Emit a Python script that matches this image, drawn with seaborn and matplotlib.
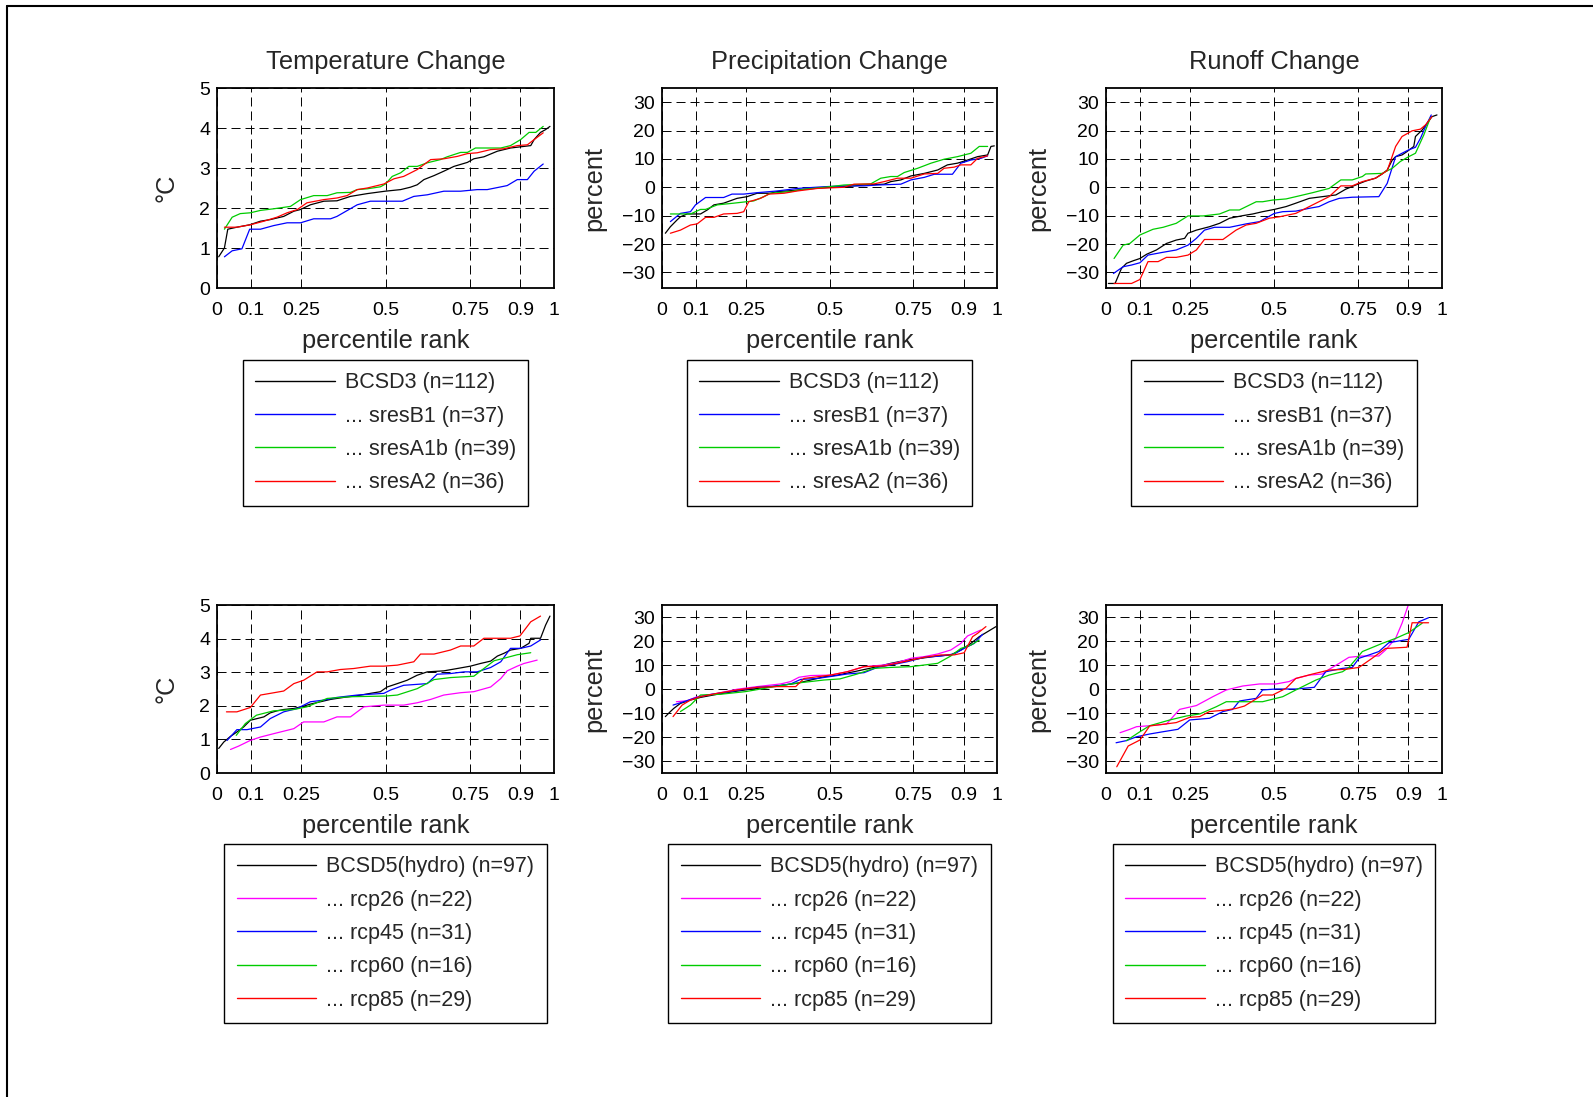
import matplotlib
matplotlib.use("Agg")
import matplotlib.pyplot as plt
import seaborn as sns
import pandas as pd
from matplotlib.lines import Line2D

sns.set_style("white")
plt.rcParams["font.family"] = ["Liberation Sans", "DejaVu Sans"]

# ---------------- data (percentile rank, value) ----------------
x_ticks = [0, 0.1, 0.25, 0.5, 0.75, 0.9, 1]
x_tick_labels = ["0", "0.1", "0.25", "0.5", "0.75", "0.9", "1"]
temp_ticks = [0, 1, 2, 3, 4, 5]
pct_ticks = [-30, -20, -10, 0, 10, 20, 30]
titles = ["Temperature Change", "Precipitation Change", "Runoff Change"]
ylabels = ["°C", "percent", "percent"]

cmip3_labels = ["BCSD3 (n=112)", "... sresB1 (n=37)", "... sresA1b (n=39)", "... sresA2 (n=36)"]
cmip5_labels = ["BCSD5(hydro) (n=97)", "... rcp26 (n=22)", "... rcp45 (n=31)",
                "... rcp60 (n=16)", "... rcp85 (n=29)"]

# --- CMIP3 temperature ---
t3_bcsd3 = [(.005, .78), (.022, 1.00), (.032, 1.47), (.059, 1.52), (.097, 1.58), (.129, 1.67),
            (.158, 1.71), (.198, 1.79), (.228, 1.92), (.247, 1.96), (.277, 2.08), (.317, 2.17),
            (.356, 2.18), (.396, 2.29), (.446, 2.36), (.499, 2.42), (.545, 2.46), (.574, 2.52),
            (.594, 2.58), (.614, 2.71), (.644, 2.81), (.673, 2.92), (.703, 3.04), (.743, 3.14),
            (.762, 3.23), (.792, 3.28), (.832, 3.42), (.871, 3.50), (.901, 3.53), (.931, 3.56),
            (.941, 3.71), (.960, 3.89), (.975, 3.96), (.988, 4.04)]
t3_b1 = [(.022, .78), (.045, .93), (.074, .98), (.097, 1.47), (.129, 1.47), (.168, 1.56),
         (.208, 1.63), (.248, 1.63), (.287, 1.73), (.337, 1.73), (.356, 1.79), (.416, 2.08),
         (.455, 2.17), (.550, 2.17), (.584, 2.29), (.624, 2.33), (.673, 2.42), (.723, 2.42),
         (.772, 2.46), (.802, 2.46), (.861, 2.56), (.891, 2.71), (.921, 2.71), (.941, 2.92),
         (.968, 3.10)]
t3_a1b = [(.022, 1.47), (.045, 1.77), (.069, 1.86), (.099, 1.88), (.129, 1.94), (.168, 1.98),
          (.218, 2.04), (.248, 2.21), (.287, 2.31), (.327, 2.31), (.356, 2.38), (.396, 2.39),
          (.416, 2.46), (.446, 2.48), (.485, 2.53), (.500, 2.60), (.520, 2.79), (.545, 2.88),
          (.569, 3.04), (.594, 3.04), (.624, 3.13), (.663, 3.21), (.683, 3.28), (.723, 3.39),
          (.743, 3.39), (.767, 3.50), (.842, 3.50), (.871, 3.56), (.901, 3.71), (.926, 3.89),
          (.946, 3.89), (.968, 4.04)]
t3_a2 = [(.022, 1.52), (.059, 1.52), (.099, 1.58), (.139, 1.67), (.178, 1.77), (.208, 1.88),
         (.238, 1.96), (.267, 2.13), (.317, 2.21), (.356, 2.25), (.386, 2.31), (.416, 2.46),
         (.446, 2.50), (.495, 2.60), (.525, 2.73), (.554, 2.79), (.594, 2.96), (.634, 3.21),
         (.673, 3.23), (.713, 3.29), (.743, 3.36), (.772, 3.38), (.812, 3.46), (.851, 3.48),
         (.891, 3.56), (.921, 3.58), (.941, 3.71), (.968, 3.88)]

# --- CMIP3 precipitation ---
p3_bcsd3 = [(.010, -16.2), (.025, -13.9), (.045, -11.5), (.055, -10.4), (.075, -9.4), (.115, -9.4),
            (.135, -8.0), (.155, -6.2), (.184, -5.6), (.224, -3.9), (.254, -3.3), (.284, -2.1),
            (.324, -2.1), (.344, -1.5), (.384, -1.2), (.434, -0.6), (.499, 0.0), (.543, 0.2),
            (.603, 0.8), (.663, 1.1), (.683, 2.0), (.713, 2.6), (.743, 4.0), (.783, 4.9),
            (.823, 6.1), (.852, 7.9), (.882, 8.5), (.912, 9.6), (.942, 10.8), (.972, 11.4),
            (.982, 14.4), (.992, 14.6)]
p3_b1 = [(.025, -12.1), (.055, -9.2), (.085, -8.6), (.100, -6.2), (.130, -3.6), (.184, -3.6),
         (.209, -2.4), (.244, -2.4), (.284, -1.9), (.344, -1.3), (.404, -0.4), (.484, 0.2),
         (.543, 0.5), (.603, 0.5), (.643, 0.8), (.713, 1.1), (.743, 2.6), (.783, 3.5),
         (.813, 4.6), (.867, 4.6), (.892, 8.5), (.922, 9.6), (.952, 10.2), (.972, 11.1)]
p3_a1b = [(.025, -9.4), (.085, -9.4), (.115, -7.8), (.130, -7.8), (.165, -6.2), (.214, -5.6),
          (.274, -4.8), (.304, -3.3), (.324, -2.1), (.384, -1.5), (.424, -0.7), (.484, 0.0),
          (.543, 0.8), (.623, 1.2), (.653, 3.2), (.683, 3.8), (.703, 3.8), (.723, 5.2),
          (.763, 6.7), (.803, 8.5), (.842, 9.9), (.882, 10.8), (.922, 12.0), (.947, 14.4),
          (.972, 14.4)]
p3_a2 = [(.025, -16.2), (.055, -15.1), (.085, -13.3), (.105, -12.9), (.130, -10.6), (.155, -10.6),
         (.184, -9.4), (.224, -9.2), (.244, -8.6), (.259, -5.1), (.294, -3.9), (.319, -2.4),
         (.364, -2.1), (.404, -1.3), (.464, -0.4), (.543, 0.0), (.573, 1.1), (.633, 1.2),
         (.663, 2.0), (.703, 3.2), (.743, 3.2), (.783, 4.7), (.823, 4.9), (.842, 6.7),
         (.872, 7.1), (.892, 7.9), (.922, 7.9), (.942, 10.2), (.972, 11.1)]

# --- CMIP3 runoff ---
r3_bcsd3 = [(.007, -33.9), (.027, -33.9), (.046, -28.6), (.061, -26.8), (.081, -25.9), (.101, -25.1),
            (.121, -23.6), (.150, -22.1), (.180, -19.8), (.209, -18.6), (.234, -18.0), (.244, -16.2),
            (.269, -15.1), (.308, -13.9), (.338, -12.7), (.368, -10.9), (.407, -10.0), (.437, -9.4),
            (.466, -8.6), (.501, -7.8), (.536, -6.8), (.565, -5.6), (.605, -3.9), (.644, -3.3),
            (.684, -2.7), (.713, -0.7), (.743, 0.8), (.773, 2.2), (.802, 3.2), (.822, 4.7),
            (.837, 6.1), (.852, 9.6), (.862, 10.8), (.881, 11.4), (.896, 12.6), (.916, 14.4),
            (.921, 17.9), (.941, 20.2), (.956, 22.6), (.970, 24.9), (.985, 25.5)]
r3_b1 = [(.022, -30.4), (.051, -28.0), (.076, -27.4), (.101, -26.6), (.125, -23.9), (.170, -22.9),
         (.209, -22.1), (.244, -20.4), (.269, -18.0), (.293, -15.1), (.323, -14.1), (.368, -14.1),
         (.417, -12.9), (.457, -12.1), (.501, -9.2), (.526, -8.6), (.565, -8.4), (.605, -7.4),
         (.634, -6.8), (.664, -5.1), (.694, -3.9), (.733, -3.5), (.812, -3.3), (.837, 1.4),
         (.862, 10.8), (.881, 12.0), (.901, 13.2), (.921, 14.1), (.936, 17.3), (.951, 21.4),
         (.968, 25.5)]
r3_a1b = [(.024, -25.1), (.051, -20.4), (.071, -19.8), (.101, -16.8), (.140, -14.8), (.170, -14.1),
          (.209, -12.7), (.244, -10.1), (.289, -10.1), (.338, -9.4), (.368, -8.0), (.397, -8.0),
          (.447, -5.1), (.466, -5.1), (.496, -4.5), (.536, -4.1), (.565, -3.3), (.615, -1.9),
          (.664, -0.4), (.699, 2.6), (.733, 2.6), (.763, 3.8), (.773, 4.7), (.822, 4.9),
          (.852, 6.7), (.876, 9.1), (.901, 10.8), (.921, 12.0), (.946, 18.5), (.965, 24.4)]
r3_a2 = [(.024, -33.9), (.076, -33.9), (.101, -32.5), (.125, -26.2), (.155, -26.2), (.180, -24.7),
         (.209, -24.7), (.244, -23.9), (.269, -22.1), (.293, -18.4), (.348, -18.4), (.387, -15.1),
         (.417, -13.3), (.447, -12.7), (.486, -10.9), (.516, -10.4), (.565, -9.2), (.615, -6.2),
         (.664, -3.3), (.699, 0.5), (.733, 0.5), (.763, 2.0), (.802, 3.2), (.837, 5.9),
         (.862, 14.4), (.881, 17.9), (.911, 19.9), (.936, 20.5), (.951, 22.0), (.970, 24.9)]

# --- CMIP5 temperature ---
t5_bcsd5 = [(.005, .73), (.020, .92), (.040, 1.09), (.059, 1.22), (.079, 1.37), (.099, 1.57),
            (.119, 1.62), (.139, 1.67), (.158, 1.79), (.178, 1.85), (.198, 1.89), (.228, 1.92),
            (.257, 1.99), (.277, 2.05), (.307, 2.12), (.337, 2.19), (.376, 2.25), (.416, 2.30),
            (.455, 2.37), (.485, 2.42), (.505, 2.56), (.535, 2.66), (.564, 2.76), (.594, 2.91),
            (.624, 3.01), (.673, 3.04), (.713, 3.11), (.752, 3.18), (.782, 3.26), (.812, 3.33),
            (.832, 3.48), (.851, 3.56), (.871, 3.66), (.901, 3.71), (.926, 3.86), (.931, 4.01),
            (.960, 4.01), (.975, 4.40), (.988, 4.67)]
t5_rcp26 = [(.040, .70), (.064, .80), (.099, .97), (.129, 1.07), (.168, 1.17), (.208, 1.27),
            (.228, 1.32), (.257, 1.52), (.317, 1.52), (.356, 1.67), (.396, 1.67), (.436, 1.97),
            (.495, 2.02), (.554, 2.02), (.594, 2.09), (.634, 2.19), (.673, 2.32), (.723, 2.39),
            (.762, 2.42), (.812, 2.56), (.842, 2.81), (.861, 3.04), (.891, 3.18), (.911, 3.26),
            (.950, 3.36)]
t5_rcp45 = [(.030, .97), (.059, 1.29), (.089, 1.29), (.129, 1.37), (.158, 1.62), (.198, 1.82),
            (.238, 1.92), (.277, 2.12), (.317, 2.17), (.356, 2.25), (.416, 2.32), (.495, 2.37),
            (.515, 2.47), (.554, 2.61), (.624, 2.66), (.653, 2.94), (.693, 2.96), (.733, 3.01),
            (.772, 3.01), (.812, 3.14), (.842, 3.31), (.871, 3.71), (.901, 3.71), (.931, 3.78),
            (.960, 3.96)]
t5_rcp60 = [(.057, 1.12), (.084, 1.47), (.117, 1.72), (.168, 1.85), (.228, 1.89), (.267, 1.97),
            (.327, 2.22), (.396, 2.27), (.500, 2.29), (.535, 2.32), (.594, 2.51), (.644, 2.78),
            (.693, 2.84), (.762, 2.88), (.792, 3.11), (.822, 3.34), (.861, 3.44), (.891, 3.52),
            (.931, 3.58)]
t5_rcp85 = [(.028, 1.82), (.059, 1.82), (.099, 1.95), (.129, 2.32), (.158, 2.37), (.198, 2.44),
            (.228, 2.66), (.257, 2.76), (.297, 3.01), (.327, 3.01), (.366, 3.08), (.406, 3.11),
            (.455, 3.18), (.495, 3.18), (.535, 3.21), (.584, 3.31), (.604, 3.54), (.644, 3.54),
            (.693, 3.66), (.723, 3.78), (.762, 3.78), (.792, 4.01), (.871, 4.01), (.899, 4.08),
            (.931, 4.50), (.960, 4.67)]

# --- CMIP5 precipitation ---
p5_bcsd5 = [(.010, -11.5), (.025, -9.4), (.035, -8.1), (.055, -6.0), (.085, -4.6), (.115, -3.5),
            (.165, -2.2), (.214, -1.1), (.264, -0.1), (.314, 0.7), (.364, 1.7), (.404, 2.4),
            (.444, 3.75), (.484, 5.1), (.523, 5.8), (.573, 7.2), (.633, 9.0), (.683, 10.7),
            (.733, 12.1), (.773, 12.8), (.823, 13.75), (.862, 14.2), (.892, 16.25), (.922, 19.0),
            (.947, 21.8), (.972, 23.9), (.997, 26.0)]
p5_rcp26 = [(.043, -5.3), (.075, -4.9), (.105, -3.2), (.165, -1.8), (.224, -0.1), (.284, 1.0),
            (.354, 2.1), (.384, 3.1), (.409, 4.9), (.444, 5.6), (.503, 5.8), (.553, 7.2),
            (.603, 9.3), (.663, 10.0), (.703, 11.0), (.743, 12.8), (.783, 13.5), (.823, 14.6),
            (.862, 16.25), (.892, 19.0), (.912, 22.1), (.952, 24.6)]
p5_rcp45 = [(.033, -6.7), (.065, -5.3), (.095, -3.9), (.135, -2.5), (.184, -1.5), (.234, -0.4),
            (.284, 0.7), (.344, 1.25), (.384, 2.1), (.414, 4.0), (.464, 4.4), (.513, 5.4),
            (.553, 6.25), (.603, 6.8), (.643, 9.0), (.683, 10.0), (.733, 11.4), (.783, 13.2),
            (.833, 13.75), (.872, 14.6), (.902, 16.9), (.932, 19.0), (.957, 22.8)]
p5_rcp60 = [(.055, -9.4), (.085, -6.7), (.115, -2.5), (.174, -2.2), (.249, -1.1), (.324, 0.7),
            (.399, 2.4), (.484, 3.75), (.531, 4.2), (.583, 6.25), (.633, 8.6), (.683, 9.0),
            (.743, 9.3), (.823, 10.7), (.862, 13.75), (.892, 16.9), (.922, 18.3), (.947, 20.4)]
p5_rcp85 = [(.033, -11.5), (.060, -6.7), (.085, -4.6), (.115, -3.2), (.165, -1.8), (.224, -0.4),
            (.284, 0.7), (.344, 1.0), (.399, 1.0), (.424, 4.4), (.464, 5.1), (.503, 5.8),
            (.553, 7.2), (.603, 9.3), (.663, 9.6), (.723, 11.4), (.783, 13.2), (.833, 14.2),
            (.872, 14.2), (.902, 15.1), (.927, 21.8), (.942, 23.2), (.967, 26.0)]

# --- CMIP5 runoff ---
r5_bcsd5 = []
r5_rcp26 = [(.042, -18.2), (.071, -16.8), (.091, -15.7), (.130, -15.3), (.180, -14.6), (.219, -8.5),
            (.269, -6.9), (.318, -3.2), (.358, -0.4), (.407, 1.25), (.457, 2.1), (.506, 2.1),
            (.545, 3.1), (.565, 4.4), (.605, 5.8), (.644, 6.25), (.664, 8.2), (.694, 10.7),
            (.723, 13.2), (.763, 13.75), (.812, 13.75), (.832, 16.25), (.862, 21.1), (.881, 27.4),
            (.901, 35.5)]
r5_rcp45 = [(.030, -22.4), (.061, -21.5), (.091, -19.9), (.130, -18.75), (.170, -17.8), (.214, -16.8),
            (.249, -12.9), (.308, -12.2), (.348, -9.4), (.377, -8.5), (.397, -5.0), (.447, -3.9),
            (.466, -0.4), (.506, 0.0), (.565, 0.0), (.620, 0.7), (.654, 7.2), (.704, 8.6),
            (.733, 9.0), (.753, 12.8), (.783, 14.2), (.812, 15.6), (.842, 19.3), (.901, 20.7),
            (.931, 28.0), (.960, 29.7)]
r5_rcp60 = [(.061, -21.5), (.101, -17.8), (.130, -15.3), (.190, -12.9), (.239, -11.25), (.279, -10.4),
            (.328, -7.4), (.358, -5.3), (.466, -5.3), (.526, -3.2), (.565, -0.4), (.625, 3.75),
            (.664, 5.8), (.704, 7.2), (.723, 9.0), (.763, 15.6), (.822, 19.0), (.862, 21.1),
            (.901, 23.5), (.941, 27.4)]
r5_rcp85 = [(.032, -32.4), (.066, -23.75), (.101, -21.25), (.130, -15.4), (.170, -14.7), (.209, -14.0),
            (.249, -11.8), (.279, -11.5), (.308, -9.4), (.358, -8.75), (.387, -8.1), (.412, -7.1),
            (.466, -2.5), (.496, -2.5), (.536, 0.3), (.565, 4.4), (.615, 6.25), (.664, 7.9),
            (.713, 8.2), (.753, 9.0), (.792, 12.8), (.832, 16.9), (.896, 17.4), (.911, 27.6),
            (.960, 27.6)]

cmip3_colors = ["#000000", "#0000ff", "#00cc00", "#ff0000"]
cmip5_colors = ["#000000", "#ff00ff", "#0000ff", "#00cc00", "#ff0000"]

# ---------------- figure ----------------
W, H = 1593, 1097
fig = plt.figure(figsize=(W / 100, H / 100), dpi=100)

col_lr = [(217, 554), (662, 997), (1106, 1442)]
row_tb = [(88, 288), (605, 773)]
ylabel_pad = [14.5, 11, 11]


def add_ax(col, row):
    l, r = col_lr[col]
    t, b = row_tb[row]
    return fig.add_axes([l / W, 1 - b / H, (r - l) / W, (b - t) / H])


panels = [
    (0, 0, [t3_bcsd3, t3_b1, t3_a1b, t3_a2], cmip3_labels, cmip3_colors, (0, 5), temp_ticks),
    (1, 0, [p3_bcsd3, p3_b1, p3_a1b, p3_a2], cmip3_labels, cmip3_colors, (-35.5, 35), pct_ticks),
    (2, 0, [r3_bcsd3, r3_b1, r3_a1b, r3_a2], cmip3_labels, cmip3_colors, (-35.5, 35), pct_ticks),
    (0, 1, [t5_bcsd5, t5_rcp26, t5_rcp45, t5_rcp60, t5_rcp85], cmip5_labels, cmip5_colors, (0, 5), temp_ticks),
    (1, 1, [p5_bcsd5, p5_rcp26, p5_rcp45, p5_rcp60, p5_rcp85], cmip5_labels, cmip5_colors, (-35, 35), pct_ticks),
    (2, 1, [r5_bcsd5, r5_rcp26, r5_rcp45, r5_rcp60, r5_rcp85], cmip5_labels, cmip5_colors, (-35, 35), pct_ticks),
]

legend_top_px = [360, 844]

for col, row, series, labels, colors, ylim, yticks in panels:
    ax = add_ax(col, row)
    ax.set_axisbelow(True)
    ax.grid(True, color="k", linestyle=(0, (9.3, 5.1)), linewidth=0.7)
    handles = []
    for pts, lab, c in zip(series, labels, colors):
        if pts:
            df = pd.DataFrame(pts, columns=["rank", "value"])
            sns.lineplot(data=df, x="rank", y="value", color=c, linewidth=0.9,
                         estimator=None, sort=False, ax=ax, legend=False)
        handles.append(Line2D([], [], color=c, linewidth=1.0, label=lab))
    ax.set_xlim(0, 1)
    ax.set_ylim(*ylim)
    ax.set_xticks(x_ticks)
    ax.set_xticklabels(x_tick_labels)
    ax.set_yticks(yticks)
    ax.tick_params(length=0, labelsize=14, colors="k")
    ax.tick_params(axis="x", pad=10)
    ax.tick_params(axis="y", pad=5)
    for s in ax.spines.values():
        s.set_color("k")
        s.set_linewidth(1.3)
    ax.set_xlabel("percentile rank", fontsize=18.3, labelpad=7)
    ax.set_ylabel(ylabels[col], fontsize=18.3, labelpad=ylabel_pad[col])
    if row == 0:
        ax.set_title(titles[col], fontsize=18.3, pad=13.5)
    t, b = row_tb[row]
    anchor_y = (b - legend_top_px[row]) / (b - t)
    leg = ax.legend(handles=handles, loc="upper center", bbox_to_anchor=(0.5, anchor_y),
                    borderaxespad=0, fontsize=15.5, frameon=True, fancybox=False,
                    edgecolor="k", framealpha=1, handlelength=3.7, handletextpad=0.45,
                    labelspacing=0.57, borderpad=0.58)
    leg.get_frame().set_linewidth(1.0)

# outer frame (top and left edges)
fig.add_artist(Line2D([7 / W, 1], [1 - 6 / H, 1 - 6 / H], color="k", linewidth=1.5,
                      transform=fig.transFigure))
fig.add_artist(Line2D([7 / W, 7 / W], [0, 1 - 6 / H], color="k", linewidth=1.5,
                      transform=fig.transFigure))

fig.savefig("out.png", dpi=100)
